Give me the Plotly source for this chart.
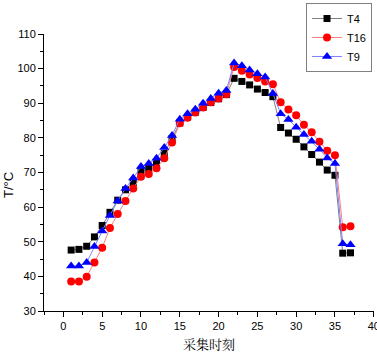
import plotly.graph_objects as go

x = list(range(1, 38))

T4 = [47.6, 47.8, 48.7, 51.4, 54.7, 58.5, 62.0, 65.0, 67.1, 70.3,
      71.2, 72.6, 75.5, 79.8, 84.3, 86.0, 87.4, 88.8, 90.2, 91.3,
      92.5, 97.2, 96.3, 95.3, 94.1, 93.1, 91.9, 83.0, 81.4, 79.6,
      77.4, 75.2, 73.0, 70.7, 69.2, 46.7, 46.8]

T16 = [38.5, 38.5, 39.9, 44.0, 48.3, 54.0, 58.0, 61.8, 65.4, 68.8,
       69.6, 71.2, 74.1, 78.7, 84.2, 85.8, 87.3, 88.8, 90.3, 91.4,
       92.6, 100.5, 99.4, 98.3, 97.3, 96.3, 95.5, 90.3, 88.2, 86.5,
       83.8, 81.6, 78.9, 76.3, 75.0, 54.2, 54.5]

T9 = [43.0, 43.0, 44.0, 48.6, 53.1, 57.6, 61.8, 65.4, 68.4, 71.7,
      72.6, 74.1, 77.2, 80.7, 85.4, 87.0, 88.3, 90.0, 91.4, 92.9,
      93.7, 101.6, 100.8, 99.6, 98.5, 97.6, 92.8, 87.0, 85.3, 83.1,
      81.0, 79.0, 76.7, 74.2, 72.6, 49.4, 49.1]

x_ticks = [0, 5, 10, 15, 20, 25, 30, 35, 40]
y_ticks = [30, 40, 50, 60, 70, 80, 90, 100, 110]

fig = go.Figure()
fig.add_trace(go.Scatter(x=x, y=T4, name="T4", mode="lines+markers",
                         line=dict(color="#808080", width=1),
                         marker=dict(symbol="square", size=7, color="black")))
fig.add_trace(go.Scatter(x=x, y=T16, name="T16", mode="lines+markers",
                         line=dict(color="#ff7f7f", width=1),
                         marker=dict(symbol="circle", size=8, color="red")))
fig.add_trace(go.Scatter(x=x, y=T9, name="T9", mode="lines+markers",
                         line=dict(color="#7f7fff", width=1),
                         marker=dict(symbol="triangle-up", size=9, color="blue")))

axis_font = dict(family="Liberation Sans, Arial", size=11, color="black")

fig.update_layout(
    template="none",
    width=377, height=352,
    margin=dict(l=44, r=3, t=34, b=41, autoexpand=False),
    paper_bgcolor="white", plot_bgcolor="white",
    showlegend=True,
    legend=dict(x=0.994, xanchor="right", y=1.112, yanchor="top",
                bordercolor="#808080", borderwidth=1, bgcolor="white",
                font=dict(family="Liberation Sans, Arial", size=11, color="black"),
                tracegroupgap=0, itemwidth=30),
    xaxis=dict(range=[-2.5, 40.03], tickvals=x_ticks, ticktext=[str(v) for v in x_ticks],
               showgrid=False, zeroline=False, showline=True, linecolor="black", linewidth=1,
               ticks="outside", ticklen=5, tickwidth=1, tickcolor="black",
               minor=dict(dtick=2.5, tick0=0, ticks="outside", ticklen=3, tickcolor="black"),
               tickfont=axis_font, automargin=False, mirror=False,
               ticklabeloverflow="allow"),
    yaxis=dict(range=[30, 110], tickvals=y_ticks, ticktext=[str(v) for v in y_ticks],
               showgrid=False, zeroline=False, showline=True, linecolor="black", linewidth=1,
               ticks="outside", ticklen=5, tickwidth=1, tickcolor="black",
               minor=dict(dtick=5, tick0=30, ticks="outside", ticklen=3, tickcolor="black"),
               tickfont=axis_font, automargin=False, mirror=False),
    annotations=[
        dict(text="采集时刻", xref="paper", yref="paper", x=0.5, y=-0.118,
             xanchor="center", yanchor="middle", showarrow=False,
             font=dict(family="Noto Serif CJK SC, Noto Sans CJK SC", size=13, color="black")),
        dict(text="T/°C", xref="paper", yref="paper", x=-0.106, y=0.455,
             xanchor="center", yanchor="middle", showarrow=False, textangle=-90,
             font=dict(family="Liberation Sans, Arial", size=13, color="black")),
    ],
)

fig.write_html("out.html",
               config={"displayModeBar": False},
               post_script="document.body.style.margin='0';document.body.style.overflow='hidden';")
